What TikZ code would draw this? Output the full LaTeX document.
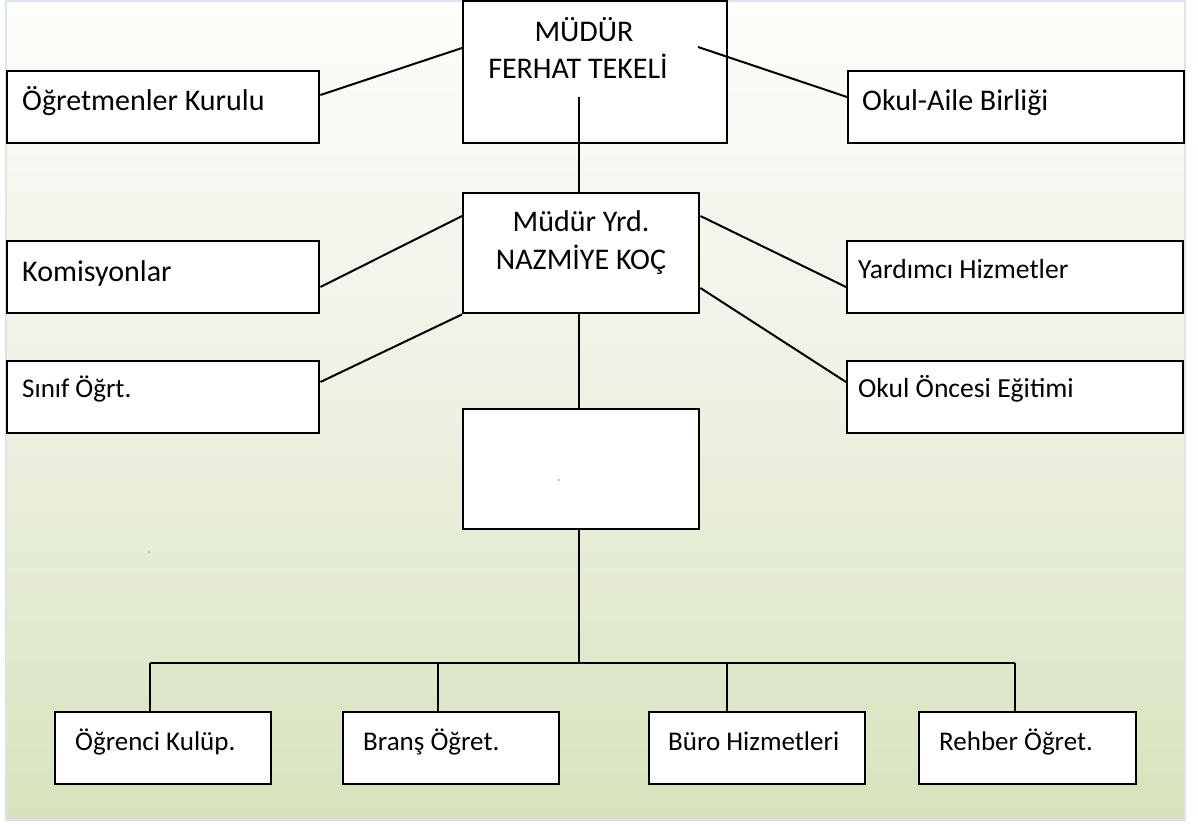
\documentclass[tikz,border=0pt]{standalone}
\usepackage{fontspec}
\setmainfont{Carlito}
\usetikzlibrary{calc}
\definecolor{bgtop}{HTML}{FDFDFB}
\definecolor{bgmid}{HTML}{EDF1E2}
\definecolor{bgbot}{HTML}{D7E3BC}
\definecolor{framec}{HTML}{DAE3F0}
\tikzset{
  box/.style={draw=black, line width=2.4pt, fill=white, rectangle, inner sep=0pt, anchor=north west},
  conn/.style={draw=black, line width=2pt},
  bigtxt/.style={inner sep=0pt, font=\fontsize{30}{37}\selectfont},
  midtxt/.style={inner sep=0pt, font=\fontsize{27.6}{33}\selectfont},
  smalltxt/.style={inner sep=0pt, font=\fontsize{27}{32}\selectfont},
}
\begin{document}
\begin{tikzpicture}[x=1pt,y=-1pt]
\useasboundingbox (0,0) rectangle (1198,824);
% background
\shade[top color=bgtop, bottom color=bgbot, middle color=bgmid] (6,1) rectangle (1185,820);
\draw[framec, line width=2.5pt] (6,1) rectangle (1185,820);

% boxes
\node[box, minimum width=264pt, minimum height=142pt] (mud) at (462,0) {};
\node[box, minimum width=312pt, minimum height=72pt] (ogr) at (6,70) {};
\node[box, minimum width=336pt, minimum height=72pt] (oab) at (847,70) {};
\node[box, minimum width=236pt, minimum height=120pt] (yrd) at (462,192) {};
\node[box, minimum width=312pt, minimum height=72pt] (kom) at (6,240) {};
\node[box, minimum width=336pt, minimum height=72pt] (yh) at (846,240) {};
\node[box, minimum width=312pt, minimum height=72pt] (sin) at (6,360) {};
\node[box, minimum width=336pt, minimum height=72pt] (ooe) at (846,360) {};
\node[box, minimum width=236pt, minimum height=120pt] (emp) at (462,408) {};
\node[box, minimum width=216pt, minimum height=72pt] (b1) at (54,711) {};
\node[box, minimum width=216pt, minimum height=72pt] (b2) at (342,711) {};
\node[box, minimum width=216pt, minimum height=72pt] (b3) at (648,711) {};
\node[box, minimum width=217pt, minimum height=72pt] (b4) at (918,711) {};

% texts
\node[bigtxt, anchor=base] (tmud1) at (584,42) {MÜDÜR};
\node[bigtxt, anchor=base] (tmud2) at (578,79) {FERHAT TEKELİ};
\node[bigtxt, anchor=base] (tyrd1) at (581,231) {Müdür Yrd.};
\node[bigtxt, anchor=base] (tyrd2) at (581,269) {NAZMİYE KOÇ};
\node[bigtxt, anchor=base west] (togr) at ($(ogr.west)+(16,3)$) {Öğretmenler Kurulu};
\node[bigtxt, anchor=base west] (toab) at ($(oab.west)+(15,3)$) {Okul-Aile Birliği};
\node[bigtxt, anchor=base west] (tkom) at ($(kom.west)+(16,4)$) {Komisyonlar};
\node[midtxt, anchor=base west] (tyh) at ($(yh.west)+(12,1)$) {Yardımcı Hizmetler};
\node[smalltxt, anchor=base west] (tsin) at ($(sin.west)+(16,0)$) {Sınıf Öğrt.};
\node[midtxt, anchor=base west] (tooe) at ($(ooe.west)+(12,0)$) {Okul Öncesi Eğitimi};
\node[smalltxt, anchor=base west] (tb1) at ($(b1.west)+(21,2)$) {Öğrenci Kulüp.};
\node[smalltxt, anchor=base west] (tb2) at ($(b2.west)+(21,2)$) {Branş Öğret.};
\node[smalltxt, anchor=base west] (tb3) at ($(b3.west)+(20,2)$) {Büro Hizmetleri};
\node[smalltxt, anchor=base west] (tb4) at ($(b4.west)+(21,2)$) {Rehber Öğret.};

% stray dots
\node[circle, fill=gray!70, inner sep=0pt, minimum size=2pt] (dot1) at (559,480) {};
\node[circle, fill=gray!70, inner sep=0pt, minimum size=2pt] (dot2) at (149,552) {};

% connectors
\coordinate (mudr) at ($(mud.north west)+(236,47)$);
\coordinate (mudc) at ($(mud.north west)+(117,97)$);
\draw[conn] ($(mud.north west)+(0,48)$) -- ($(ogr.north east)+(0,25)$);
\draw[conn] (mudr) -- ($(oab.north west)+(0,27)$);
\draw[conn] (mudc) -- (mudc |- yrd.north);
\draw[conn] ($(yrd.north west)+(0,24)$) -- ($(kom.north east)+(0,47)$);
\draw[conn] (yrd.south west) -- ($(sin.north east)+(0,22)$);
\draw[conn] ($(yrd.north east)+(0,24)$) -- ($(yh.north west)+(0,47)$);
\draw[conn] ($(yrd.north east)+(0,96)$) -- ($(ooe.north west)+(0,22)$);
\draw[conn] (mudc |- yrd.south) -- (mudc |- emp.north);
\coordinate (j1) at (150,663);
\coordinate (j2) at (438,663);
\coordinate (j3) at (727,663);
\coordinate (j4) at (1015,663);
\draw[conn] (mudc |- emp.south) -- (mudc |- j1);
\draw[conn] (j1) -- (j4);
\draw[conn] (j1) -- (j1 |- b1.north);
\draw[conn] (j2) -- (j2 |- b2.north);
\draw[conn] (j3) -- (j3 |- b3.north);
\draw[conn] (j4) -- (j4 |- b4.north);
\end{tikzpicture}
\end{document}
